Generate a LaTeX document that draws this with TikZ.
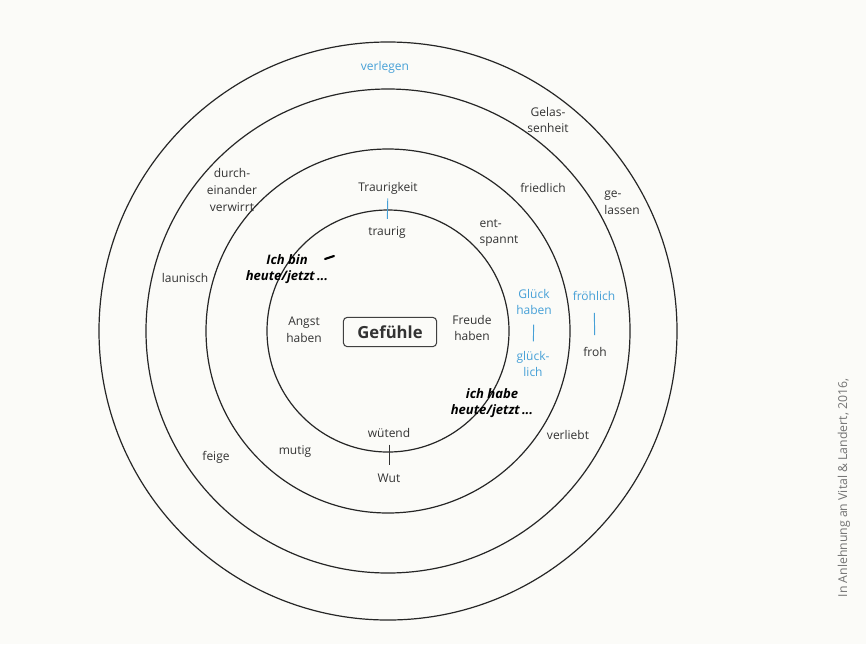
\documentclass[tikz,border=0pt]{standalone}
\usepackage{fontspec}
\setmainfont{Open Sans}
\usetikzlibrary{positioning}
\definecolor{feelblue}{RGB}{70,160,215}
\definecolor{pagebg}{RGB}{251,251,248}

\begin{document}
\begin{tikzpicture}
[x=0.75pt, y=-0.75pt,
 every node/.style={font=\fontsize{9}{12.5}\selectfont, text=black!80, inner sep=1pt},
 ring/.style={draw=black!85, line width=0.9pt},
 word/.style={align=center},
 blueword/.style={align=center, text=feelblue},
 phrase/.style={align=center, text=black, font=\fontsize{9.8}{12.5}\selectfont\bfseries\itshape},
 tick/.style={draw=black!80, line width=0.7pt, shorten <=3pt, shorten >=3pt},
 bluetick/.style={tick, draw=feelblue},
]

% page
\fill[pagebg] (0,0) rectangle (866,644);
\useasboundingbox (0,0) rectangle (866,644);

% rings
\coordinate (ctr) at (388,331);
\draw[ring] (ctr) circle[radius=289];
\draw[ring] (ctr) circle[radius=242];
\draw[ring] (ctr) circle[radius=182];
\draw[ring] (ctr) circle[radius=121];

% centre
\node[draw=black!75, rounded corners=3pt, line width=0.8pt, minimum width=70pt, minimum height=22pt,
      font=\fontsize{12.5}{14}\selectfont\bfseries] (feel) at (390,332) {Gefühle};

% inner ring
\node[word] (angst)  at (304,330) {Angst\\haben};
\node[word] (freude) at (472,328) {Freude\\haben};
\node[word] (traurig) at (387,233) {traurig};
\node[word] (wuetend) at (389,433) {wütend};

% second ring
\node[word] (trauer) at (388,188) {Traurigkeit};
\node[word] (wut)    at (389,478) {Wut};
\node[word] (mutig)  at (295,452) {mutig};
\node[word, align=left] (entsp) at (499,233) {ent-\\spannt};
\node[blueword] (glueckh) at (534,302) {Glück\\haben};
\node[blueword] (glueckl) at (533,364) {glück-\\lich};
\node[word] (durch)  at (232,190) {durch-\\einander\\verwirrt};
\node[phrase] (ichbin)  at (287,269) {Ich bin\\heute/jetzt\,...};
\node[phrase] (ichhabe) at (492,403) {ich habe\\heute/jetzt\,...};

% third ring
\node[word] (fried)  at (543,188) {friedlich};
\node[blueword] (froehl) at (594,296) {fröhlich};
\node[word] (froh)   at (595,352) {froh};
\node[word] (verl)   at (568,435) {verliebt};
\node[word] (feige)  at (216,457) {feige};
\node[word] (laun)   at (185,278) {launisch};
\node[word] (gelas)  at (548,120) {Gelas-\\senheit};

% outer ring
\node[blueword] (verleg) at (385,67) {verlegen};
\node[word, align=left] (gelass) at (622,203) {ge-\\lassen};

% ticks
\draw[bluetick, shorten <=2pt, shorten >=5pt] (trauer) -- (traurig);
\draw[tick, shorten <=4pt, shorten >=5pt] (wuetend) -- (wut);
\draw[bluetick, shorten <=6pt, shorten >=6pt] (glueckh) -- (glueckl);
\draw[bluetick, shorten <=8pt, shorten >=8pt] (froehl) -- (froh);

% pen mark
\draw[black, line width=1.6pt, line cap=round] (325,259) -- (334,256);

% source
\node[rotate=90, font=\fontsize{9.2}{10}\selectfont, text=black!55] (src) at (844,488)
  {In Anlehnung an Vital \& Landert, 2016,};
\end{tikzpicture}
\end{document}
